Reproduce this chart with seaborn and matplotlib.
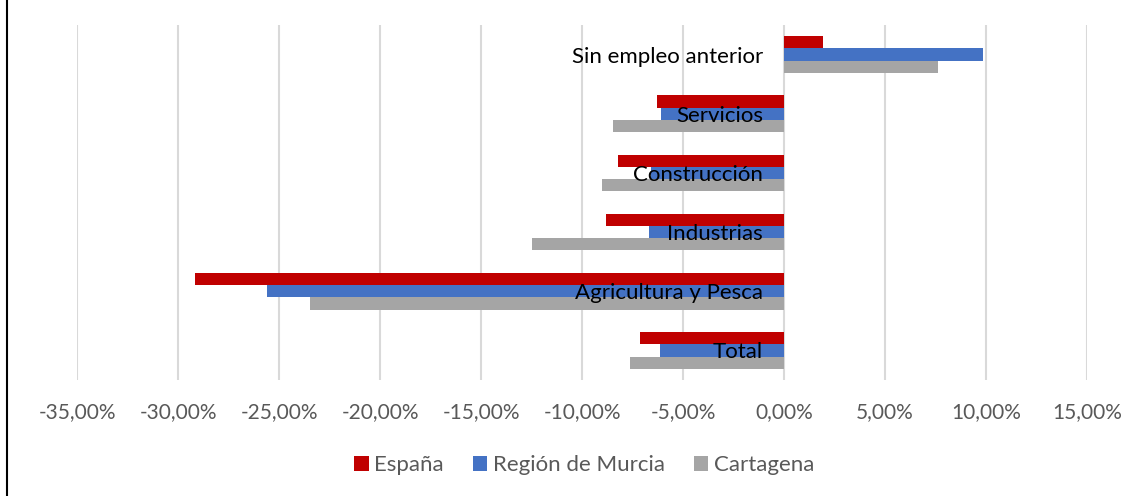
import matplotlib
matplotlib.use("Agg")
import matplotlib.pyplot as plt
from matplotlib.lines import Line2D
from matplotlib.patches import Patch
import seaborn as sns
import pandas as pd

categories = ["Sin empleo anterior", "Servicios", "Construcción", "Industrias",
              "Agricultura y Pesca", "Total"]
espana = [1.92, -6.30, -8.23, -8.81, -29.14, -7.12]
murcia = [9.83, -6.11, -6.60, -6.67, -25.60, -6.13]
cartagena = [7.61, -8.49, -8.99, -12.47, -23.48, -7.63]
series = ["España", "Región de Murcia", "Cartagena"]
colors = ["#C00000", "#4472C4", "#A5A5A5"]
xticks = [-35, -30, -25, -20, -15, -10, -5, 0, 5, 10, 15]

rows = []
for s, vals in zip(series, [espana, murcia, cartagena]):
    for c, v in zip(categories, vals):
        rows.append({"sector": c, "serie": s, "valor": v})
df = pd.DataFrame(rows)

sns.set_theme(style="white")
plt.rcParams["font.family"] = ["Lato", "DejaVu Sans"]

fig = plt.figure(figsize=(11.36, 4.96), dpi=100)
ax = fig.add_axes([77/1136, 1-380/496, (1087-77)/1136, (380-25)/496])

sns.barplot(data=df, x="valor", y="sector", hue="serie", order=categories,
            hue_order=series, palette=colors, saturation=1, width=0.62,
            errorbar=None, ax=ax, legend=False, linewidth=0)

ax.set_xlim(-35, 15)
ax.set_ylim(5.5, -0.5)
ax.set_xticks(xticks)
ax.set_xticklabels([f"{t:.2f}".replace(".", ",") + "%" for t in xticks],
                   color="#595959", fontsize=15)
ax.tick_params(axis="x", length=0, pad=16)
ax.tick_params(axis="y", length=0, pad=15, labelsize=16, labelcolor="black")
ax.set_xlabel("")
ax.set_ylabel("")
ax.grid(axis="x", color="#D9D9D9", linewidth=1.5)
ax.grid(axis="y", visible=False)
ax.set_axisbelow(True)
ax.yaxis.set_zorder(5)
ax.spines["left"].set_position(("data", 0))
for sp in ax.spines.values():
    sp.set_visible(False)

handles = [Patch(facecolor=c, edgecolor="none") for c in colors]
fig.legend(handles, series, loc="center", bbox_to_anchor=(584/1136, 1-465/496),
           ncol=3, frameon=False, fontsize=16, labelcolor="#595959",
           handlelength=0.65, handleheight=0.65, handletextpad=0.25,
           columnspacing=1.3)

fig.add_artist(Line2D([7/1136, 7/1136], [0, 1], color="black", linewidth=1.5,
                      transform=fig.transFigure))

fig.savefig("out.png", dpi=100, facecolor="white")
